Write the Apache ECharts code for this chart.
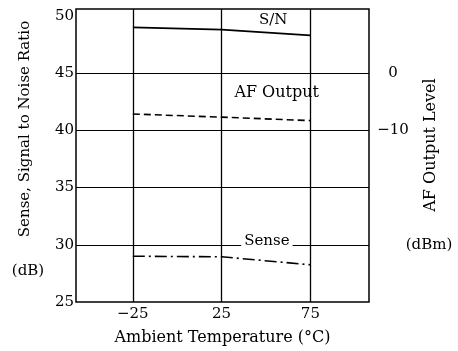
<!DOCTYPE html>
<html>
<head>
<meta charset="utf-8">
<script src="https://cdn.jsdelivr.net/npm/echarts@6/dist/echarts.min.js"></script>
<style>
  html, body { margin: 0; padding: 0; background: #fff; }
  #chart { width: 458px; height: 351px; }
</style>
</head>
<body>
<div id="chart"></div>
<script>
// temperatures (°C)
var temps = [-25, 25, 75];
// S/N and Sense in dB (left axis), AF output in dBm (right axis)
var snValues = [49.0, 48.8, 48.3];
var senseValues = [29.0, 28.95, 28.25];
var afValues = [-7.15, -7.7, -8.3];
var leftTicks = [25, 30, 35, 40, 45, 50];
var leftGrid = [30, 35, 40, 45];
var rightTicks = [0, -10];

var FONT = "DejaVu Serif";

function pairs(xs, ys) {
  var out = [];
  for (var i = 0; i < xs.length; i++) out.push([xs[i], ys[i]]);
  return out;
}
function minus(v) {
  return v < 0 ? "\u2212" + (-v) : String(v);
}

var chart = echarts.init(document.getElementById("chart"));
var option = {
  animation: false,
  grid: {
    left: 76, right: 89, top: 9, bottom: 45,
    show: true, borderColor: "#000", borderWidth: 1.5
  },
  xAxis: {
    type: "value",
    min: -57, max: 108,
    name: "Ambient Temperature (°C)",
    nameLocation: "middle",
    nameGap: 28,
    nameTextStyle: { fontFamily: FONT, fontSize: 16, color: "#000" },
    axisLine: { show: false },
    axisTick: { show: false, customValues: temps },
    axisLabel: {
      customValues: temps, formatter: minus, margin: 5,
      fontFamily: FONT, fontSize: 15, color: "#000"
    },
    splitLine: { show: true, lineStyle: { color: "#000", width: 1.3 } }
  },
  yAxis: [
    {
      type: "value",
      min: 25, max: 50.6,
      axisLine: { show: false },
      axisTick: { show: false },
      axisLabel: {
        customValues: leftTicks, margin: 2,
        fontFamily: FONT, fontSize: 15, color: "#000"
      },
      splitLine: { show: false }
    },
    {
      type: "value",
      min: -40, max: 11.2,
      axisLine: { show: false },
      axisTick: { show: false },
      axisLabel: {
        customValues: rightTicks, formatter: minus, margin: 24,
        align: "center", fontFamily: FONT, fontSize: 15, color: "#000"
      },
      splitLine: { show: false }
    }
  ],
  series: [
    {
      name: "S/N", type: "line", yAxisIndex: 0,
      data: pairs(temps, snValues),
      symbol: "none",
      lineStyle: { color: "#000", width: 1.8, type: "solid" },
      // horizontal gridlines of the left axis (no line at 50)
      markLine: {
        silent: true, symbol: "none", label: { show: false },
        lineStyle: { color: "#000", width: 1, type: "solid" },
        data: leftGrid.map(function (v) { return { yAxis: v }; })
      },
      markPoint: {
        symbolSize: 0,
        label: { show: true, position: "inside", formatter: "S/N",
          fontFamily: FONT, fontSize: 15, color: "#000" },
        data: [{ coord: [54, 49.6] }]
      }
    },
    {
      name: "AF Output", type: "line", yAxisIndex: 1,
      data: pairs(temps, afValues),
      symbol: "none",
      lineStyle: { color: "#000", width: 1.6, type: [7, 4] },
      markPoint: {
        symbolSize: 0,
        label: { show: true, position: "inside", formatter: "AF Output",
          fontFamily: FONT, fontSize: 16, color: "#000" },
        data: [{ coord: [56, -3.5] }]
      }
    },
    {
      name: "Sense", type: "line", yAxisIndex: 0,
      data: pairs(temps, senseValues),
      symbol: "none",
      lineStyle: { color: "#000", width: 1.6, type: [12, 4, 2, 4] },
      markPoint: {
        symbolSize: 0,
        label: { show: true, position: "inside", formatter: "Sense",
          fontFamily: FONT, fontSize: 15, color: "#000",
          backgroundColor: "#fff", padding: [0, 3] },
        data: [{ coord: [50.5, 30.35] }]
      }
    }
  ],
  graphic: [
    { type: "text", x: 25, y: 129, rotation: Math.PI / 2,
      style: { text: "Sense, Signal to Noise Ratio", align: "center", verticalAlign: "middle",
        font: "15px '" + FONT + "'", fill: "#000" } },
    { type: "text", x: 28, y: 271,
      style: { text: "(dB)", align: "center", verticalAlign: "middle",
        font: "15px '" + FONT + "'", fill: "#000" } },
    { type: "text", x: 431, y: 145, rotation: Math.PI / 2,
      style: { text: "AF Output Level", align: "center", verticalAlign: "middle",
        font: "16px '" + FONT + "'", fill: "#000" } },
    { type: "text", x: 429, y: 245,
      style: { text: "(dBm)", align: "center", verticalAlign: "middle",
        font: "15px '" + FONT + "'", fill: "#000" } }
  ]
};
chart.setOption(option);
</script>
</body>
</html>
